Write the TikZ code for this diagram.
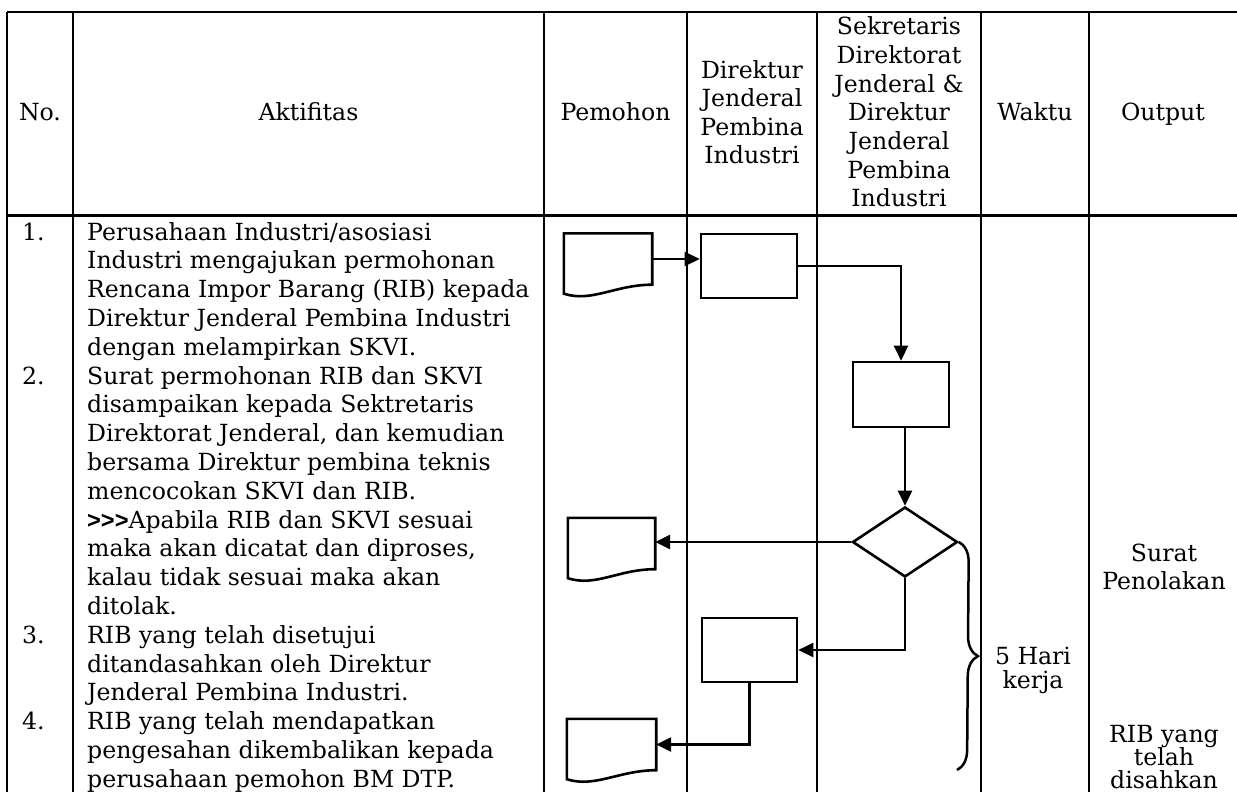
\documentclass[tikz,border=0pt]{standalone}
\usepackage{fontspec}
\setmainfont{DejaVu Serif}
\newfontfamily\arialfont[Ligatures=TeXOff]{Liberation Sans}
\usetikzlibrary{arrows.meta,shapes.geometric,calc,decorations.pathreplacing}
\newcommand\DrawDoc[1]{%
  \draw[shapeline] ($(#1.south west)+(0,9)$) -- (#1.north west) -- (#1.north east) -- (#1.south east)
    .. controls ($(#1.south east)+(-37,0)$) and ($(#1.south west)+(28,18)$) .. ($(#1.south west)+(0,9)$) -- cycle;}
\begin{document}
\begin{tikzpicture}[x=1pt,y=-1pt,
  every node/.style={font=\fontsize{23.6}{28.8}\selectfont, inner sep=0pt},
  hd/.style={anchor=base},
  bodytxt/.style={anchor=base west},
  tline/.style={line width=1.7pt},
  hline/.style={line width=3pt},
  shapeline/.style={line width=2.6pt, line join=miter},
  box/.style={draw, line width=2.6pt, minimum width=96pt, minimum height=64pt},
  docnode/.style={minimum width=88pt, minimum height=51pt},
  decision/.style={draw, diamond, line width=2.6pt, minimum width=105pt, minimum height=70pt},
  conn/.style={line width=2.5pt, -{Triangle[length=15pt,width=14pt]}},
  bracestyle/.style={line width=2.5pt, decorate, decoration={brace, amplitude=20pt}}
]
\useasboundingbox (0,0) rectangle (1237,792);
\clip (0,0) rectangle (1237,792);
\fill[white] (0,0) rectangle (1237,792);

% table grid
\draw[tline] (7,12) -- (1245,12);
\draw[hline] (7,215) -- (1245,215);
\foreach \x in {7,73,544,687,817,981,1089} \draw[tline] (\x,12) -- (\x,800);

% header
\node[hd] (hNo) at (40,121) {No.};
\node[hd] (hAkt) at (308.5,121) {Aktifitas};
\node[hd] (hPem) at (615.5,121) {Pemohon};
\foreach \t [count=\i from 0] in {Direktur,Jenderal,Pembina,Industri}
  \node[hd,name=hDir\i] at (752,78+28.6*\i) {\t};
\foreach \t [count=\i from 0] in {Sekretaris,Direktorat,{Jenderal \&},Direktur,Jenderal,Pembina,Industri}
  \node[hd,name=hSek\i] at (899,35+28.6*\i) {\t};
\node[hd] (hWak) at (1035,121) {Waktu};
\node[hd] (hOut) at (1163,121) {Output};

% numbers
\node[bodytxt] (n1) at (22,240) {1.};
\node[bodytxt] (n2) at (22,240+28.8*5) {2.};
\node[bodytxt] (n3) at (22,240+28.8*14) {3.};
\node[bodytxt] (n4) at (22,240+28.8*17) {4.};

% activity text
\foreach \t [count=\i from 0] in {
  {Perusahaan Industri/asosiasi},
  {Industri mengajukan permohonan},
  {Rencana Impor Barang (RIB) kepada},
  {Direktur Jenderal Pembina Industri},
  {dengan melampirkan SKVI.},
  {Surat permohonan RIB dan SKVI},
  {disampaikan kepada Sektretaris},
  {Direktorat Jenderal, dan kemudian},
  {bersama Direktur pembina teknis},
  {mencocokan SKVI dan RIB.},
  {{\arialfont\bfseries >\kern0pt>\kern0pt>}Apabila RIB dan SKVI sesuai},
  {maka akan dicatat dan diproses,},
  {kalau tidak sesuai maka akan},
  {ditolak.},
  {RIB yang telah disetujui},
  {ditandasahkan oleh Direktur},
  {Jenderal Pembina Industri.},
  {RIB yang telah mendapatkan},
  {pengesahan dikembalikan kepada},
  {perusahaan pemohon BM DTP.}}
  \node[bodytxt,name=b\i] at (87,240+28.8*\i) {\t};

% waktu and output
\node[hd] (w1) at (1033,664) {5 Hari};
\node[hd] (w2) at (1033,688) {kerja};
\node[hd] (o1) at (1164,561) {Surat};
\node[hd] (o2) at (1164,589) {Penolakan};
\node[hd] (o3) at (1164,742) {RIB yang};
\node[hd] (o4) at (1164,765) {telah};
\node[hd] (o5) at (1164,788) {disahkan};

% flow shapes
\node[docnode] (doc1) at (608,259) {};
\node[box] (box1) at (749,266) {};
\node[box,minimum height=65pt] (box2) at (901,394.5) {};
\node[decision] (dia) at (905,542) {};
\node[docnode,minimum width=87pt] (doc2) at (611.5,543.5) {};
\node[box,minimum width=95pt] (box3) at (749.5,650) {};
\node[docnode,minimum width=89pt] (doc3) at (611.5,744.5) {};
\DrawDoc{doc1}
\DrawDoc{doc2}
\DrawDoc{doc3}

% connectors
\draw[conn] (doc1.east) -- (doc1.east -| box1.west);
\draw[conn] (box1.east) -| (box2.north);
\draw[conn] (box2.south -| dia.north) -- (dia.north);
\draw[conn] (dia.west) -- (dia.west -| doc2.east);
\draw[conn] (dia.south) |- (box3.east);
\draw[conn] (box3.south) |- (doc3.east);

% brace
\coordinate (bend) at (957,770);
\draw[bracestyle] (dia.east) -- (bend);
\end{tikzpicture}
\end{document}
